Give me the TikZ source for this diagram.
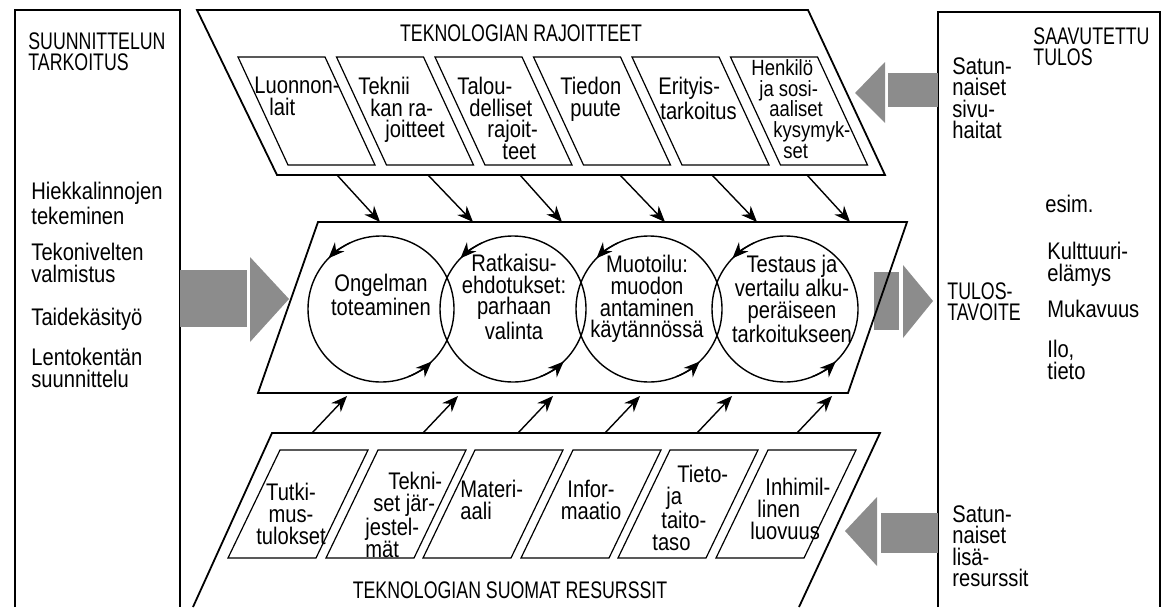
\documentclass[tikz,border=0pt]{standalone}
\usepackage{fontspec}
\setmainfont{Liberation Sans}[FakeStretch=0.84]
\newfontfamily\capsfont{Liberation Sans}[FakeStretch=0.74]
\usetikzlibrary{arrows.meta}

\begin{document}
\begin{tikzpicture}[x=0.5pt,y=0.5pt,
    font=\fontsize{12}{10.8}\selectfont,
    caps/.style={font=\capsfont\fontsize{12}{10.8}\selectfont},
    frame/.style={line width=0.9pt},
    cell/.style={line width=0.6pt},
    lbl/.style={inner sep=0pt,anchor=north west,align=left},
    ctext/.style={inner sep=0pt,align=center},
    flow/.style={line width=0.7pt,-{Stealth[length=8pt,width=6.5pt]}},
    loop/.style={circle,draw,line width=0.7pt,minimum size=73pt,inner sep=0pt,outer sep=0pt},
    block/.style={fill=black!45}]
\useasboundingbox (0,0) rectangle (1165,607);

% side boxes
\draw[frame] (15,0) -- (15,597) -- (180,597) -- (180,0);
\draw[frame] (938,0) -- (938,595) -- (1160,595) -- (1160,0);

% big arrows
\fill[block] (180,280) rectangle (247,337);
\fill[block] (250,350) -- (289,308) -- (250,265) -- cycle;
\fill[block] (874,277) rectangle (899,335);
\fill[block] (903,342) -- (933,306) -- (903,269) -- cycle;
\fill[block] (888,500) rectangle (938,534);
\fill[block] (885,545) -- (855,514) -- (885,484) -- cycle;
\fill[block] (881,54) rectangle (938,94);
\fill[block] (877,110) -- (845,76) -- (877,41) -- cycle;

% the three bands
\draw[frame] (197,597) -- (808,597) -- (885,432) -- (277,432) -- cycle;
\draw[frame] (318,385) -- (907,385) -- (848,214) -- (258,214) -- cycle;
\draw[frame] (193,0) -- (272,174) -- (880,174) -- (799,0);

% small boxes
\foreach \x in {238,336.5,435,533.5,632,730.5}
  \draw[cell] (\x,550) -- ++(87,0) -- ++(50,-108) -- ++(-87,0) -- cycle;
\foreach \x in {280,378,475,573,670,768}
  \draw[cell] (\x,157) -- ++(88,0) -- ++(-52,-108) -- ++(-88,0) -- cycle;

% titles
\node[caps,inner sep=0pt] (limits) at (521,574) {TEKNOLOGIAN RAJOITTEET};
\node[caps,inner sep=0pt] (resources) at (510,17) {TEKNOLOGIAN SUOMAT RESURSSIT};

% limits
\node[lbl] (lim1) at (254,530) {Luonnon-\\\hspace*{7.5pt}lait};
\node[lbl] (lim2) at (358,530) {Teknii\\\hspace*{6pt}kan ra-\\\hspace*{13.5pt}joitteet};
\node[lbl] (lim3) at (457,530) {Talou-\\\hspace*{6pt}delliset\\\hspace*{15pt}rajoit-\\\hspace*{22.5pt}teet};
\node[lbl] (lim4) at (560,530) {Tiedon\\\hspace*{5pt}puute};
\node[lbl] (lim5) at (658,530) {Erityis-\\\hspace*{1pt}tarkoitus};
\node[lbl,font=\fontsize{11}{10.4}\selectfont] (lim6) at (751,548) {Henkilö\\\hspace*{4pt}ja sosi-\\\hspace*{9pt}aaliset\\\hspace*{11pt}kysymyk-\\\hspace*{16pt}set};

% resources
\node[ctext,anchor=north] (res1) at (291,124) {Tutki-\\mus-\\tulokset};
\node[lbl] (res2) at (365,135) {\hspace*{11.5pt}Tekni-\\\hspace*{4pt}set jär-\\jestel-\\mät};
\node[lbl] (res3) at (460,127) {Materi-\\aali};
\node[ctext,anchor=north] (res4) at (591,127) {Infor-\\maatio};
\node[lbl] (res5) at (652,142) {\hspace*{12.5pt}Tieto-\\\hspace*{7pt}ja\\\hspace*{4.5pt}taito-\\taso};
\node[lbl] (res6) at (750,129) {\hspace*{7.5pt}Inhimil-\\\hspace*{3.5pt}linen\\luovuus};

% process circles
\node[loop] (c1) at (381,298) {};
\node[loop] (c2) at (513,298) {};
\node[loop] (c3) at (649,298) {};
\node[loop] (c4) at (785,298) {};
\foreach \c in {c1,c2,c3,c4} {
  \draw[flow] (\c.115) arc (115:136:36.5pt);
  \draw[flow] (\c.-68) arc (-68:-46:36.5pt);
}
\node[ctext] (t1) at (381,312) {Ongelman\\toteaminen};
\node[ctext] (t2) at (514,310) {Ratkaisu-\\ehdotukset:\\parhaan\\valinta};
\node[ctext] (t3) at (647,308) {Muotoilu:\\muodon\\antaminen\\käytännössä};
\node[ctext] (t4) at (792,308) {Testaus ja\\vertailu alku-\\peräiseen\\tarkoitukseen};

% limits and resources into the process
\foreach \a/\b [count=\i] in {337/380,428/473,520/562,620/665,712/757,807/850} {
  \coordinate (ls\i) at (\a,432);
  \coordinate (le\i) at (\b,385);
  \draw[flow] (ls\i) -- (le\i);
}
\foreach \b [count=\i] in {347,458,553,640,732,832} {
  \coordinate (rs\i) at (\b-35,174);
  \coordinate (re\i) at (\b,211);
  \draw[flow] (rs\i) -- (re\i);
}

% left box
\node[lbl,caps] (aim) at (28,575) {SUUNNITTELUN\\TARKOITUS};
\node[lbl] (ex1) at (31,425) {Hiekkalinnojen\\tekeminen};
\node[lbl] (ex2) at (31,364) {Tekonivelten\\valmistus};
\node[lbl] (ex3) at (31,299) {Taidekäsityö};
\node[lbl] (ex4) at (31,259) {Lentokentän\\suunnittelu};

% right box
\node[lbl,caps] (result) at (1033,580) {SAAVUTETTU\\TULOS};
\node[lbl] (side) at (952,550) {Satun-\\naiset\\sivu-\\haitat};
\node[lbl,caps] (goal) at (947,325) {TULOS-\\TAVOITE};
\node[lbl] (esim) at (1045,412) {esim.};
\node[lbl] (r1) at (1047,365) {Kulttuuri-\\elämys};
\node[lbl] (r2) at (1047,307) {Mukavuus};
\node[lbl] (r3) at (1047,267) {Ilo,\\tieto};
\node[lbl] (extra) at (952,102) {Satun-\\naiset\\lisä-\\resurssit};
\end{tikzpicture}
\end{document}
